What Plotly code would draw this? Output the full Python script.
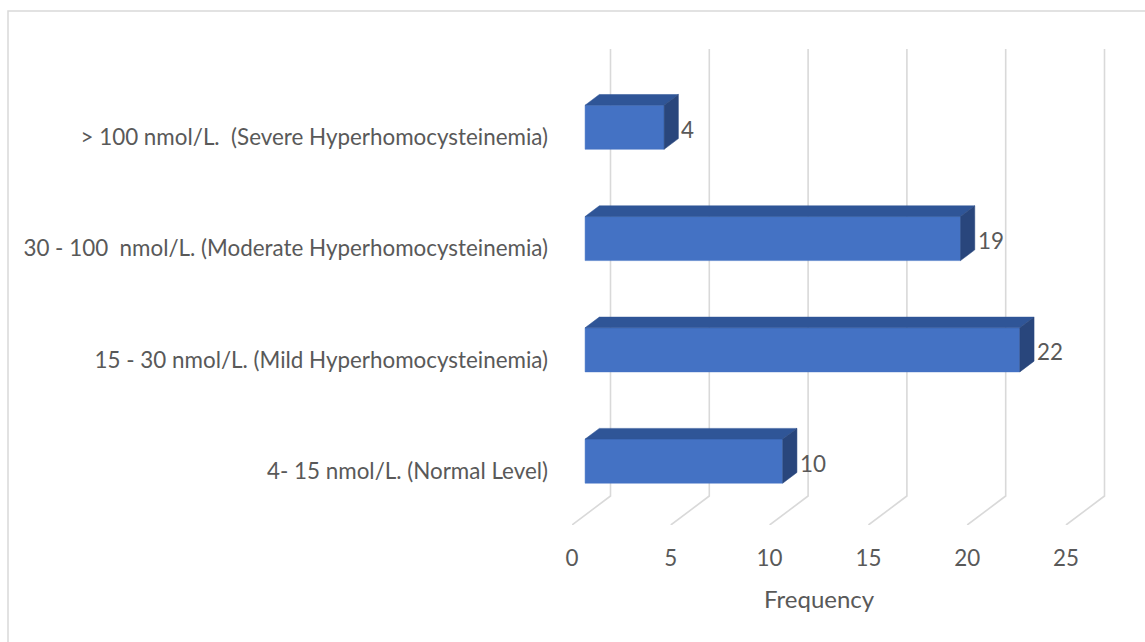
import plotly.graph_objects as go

categories = [
    "4- 15 nmol/L. (Normal Level)",
    "15 - 30 nmol/L. (Mild Hyperhomocysteinemia)",
    "30 - 100  nmol/L. (Moderate Hyperhomocysteinemia)",
    "> 100 nmol/L.  (Severe Hyperhomocysteinemia)",
]
frequency = [10, 22, 19, 4]
x_ticks = [0, 5, 10, 15, 20, 25]
axis_title = "Frequency"

# --- geometry of the 3D look (in axis units) ---
PX_PER_X = 19.76
PX_PER_Y = 111.3
DX = 38.5 / PX_PER_X      # full depth shift in x
DY = 29.0 / PX_PER_Y      # full depth shift in y
Y_FLOOR = -0.485
Y_TOP = Y_FLOOR + 476 / PX_PER_Y
X_MAX = 545 / PX_PER_X
F0, F1 = 0.34, 0.71       # bar front / back depth fractions
H = 0.198                 # half bar height

FRONT = "#4472C4"
TOP = "#2F5597"
SIDE = "#29467C"
GRID = "#D9D9D9"
TEXT = "#595959"
FONT = "Lato"
FS = 22.4

fig = go.Figure()

# gridlines: back wall verticals + floor diagonals
gx, gy = [], []
for t in x_ticks:
    gx += [t, t + DX, t + DX, None]
    gy += [Y_FLOOR, Y_FLOOR + DY, Y_TOP, None]
fig.add_trace(go.Scatter(x=gx, y=gy, mode="lines",
                         line=dict(color=GRID, width=1.6),
                         hoverinfo="skip", showlegend=False))

# bars
for i, v in enumerate(frequency):
    xf0, xf1 = F0 * DX, v + F0 * DX
    xb0, xb1 = F1 * DX, v + F1 * DX
    yfc = i + F0 * DY
    ybc = i + F1 * DY
    # front face
    fig.add_trace(go.Scatter(
        x=[xf0, xf1, xf1, xf0, xf0],
        y=[yfc - H, yfc - H, yfc + H, yfc + H, yfc - H],
        fill="toself", fillcolor=FRONT, mode="lines",
        line=dict(color=FRONT, width=0.5), hoverinfo="skip", showlegend=False))
    # top face
    fig.add_trace(go.Scatter(
        x=[xf0, xf1, xb1, xb0, xf0],
        y=[yfc + H, yfc + H, ybc + H, ybc + H, yfc + H],
        fill="toself", fillcolor=TOP, mode="lines",
        line=dict(color=TOP, width=0.5), hoverinfo="skip", showlegend=False))
    # side face
    fig.add_trace(go.Scatter(
        x=[xf1, xb1, xb1, xf1, xf1],
        y=[yfc - H, ybc - H, ybc + H, yfc + H, yfc - H],
        fill="toself", fillcolor=SIDE, mode="lines",
        line=dict(color=SIDE, width=0.5), hoverinfo="skip", showlegend=False))
    fig.add_annotation(x=v + F1 * DX, y=i + 0.07, text=str(v),
                       xref="x", yref="y", xanchor="left", yanchor="middle",
                       xshift=1, showarrow=False,
                       font=dict(family=FONT, size=FS, color=TEXT))

fig.add_annotation(x=12.5, y=-73 / 476, xref="x", yref="paper",
                   text=axis_title, showarrow=False, xanchor="center",
                   yanchor="middle", font=dict(family=FONT, size=24, color=TEXT))

# outer border
fig.add_shape(type="rect", xref="paper", yref="paper",
              x0=(8 - 572) / 545, x1=(1160 - 572) / 545,
              y0=(525 - 660) / 476, y1=(525 - 11) / 476,
              line=dict(color=GRID, width=1.5), fillcolor="rgba(0,0,0,0)")

fig.update_layout(
    width=1145, height=642,
    margin=dict(l=572, r=28, t=49, b=117),
    paper_bgcolor="white", plot_bgcolor="white",
    font=dict(family=FONT, size=FS, color=TEXT),
    xaxis=dict(range=[0, X_MAX], tickvals=x_ticks, showgrid=False,
               zeroline=False, showline=False, ticks="",
               ticklabelstandoff=18, tickfont=dict(size=FS, color=TEXT)),
    yaxis=dict(range=[Y_FLOOR, Y_TOP], tickvals=list(range(len(categories))),
               ticktext=categories, showgrid=False, zeroline=False,
               showline=False, ticks="", ticklabelstandoff=23,
               tickfont=dict(size=FS, color=TEXT)),
)

fig.write_html("out.html")
